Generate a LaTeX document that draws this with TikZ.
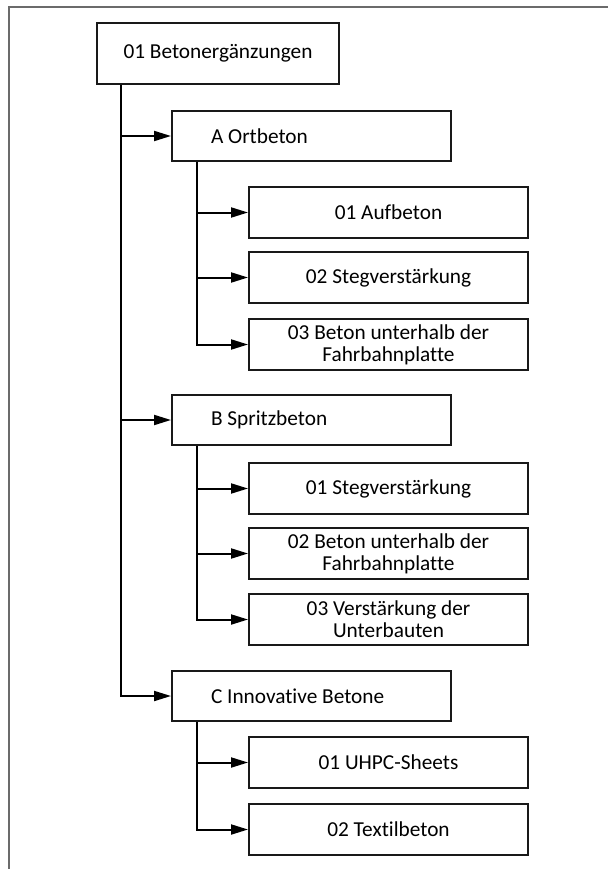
\documentclass[tikz,border=0pt]{standalone}
\usepackage{fontspec}
\setmainfont{Carlito}[Ligatures=NoCommon]
\usetikzlibrary{arrows.meta,positioning}

\begin{document}
\begin{tikzpicture}[x=1pt,y=-1pt,->,>={Triangle[length=17pt,width=10pt]},line width=2pt,
                    box/.style={rectangle,draw=black!90,anchor=north west,inner sep=2pt,
                      font=\fontsize{21.3}{22}\selectfont},
                    root node/.style={box,minimum width=242pt,minimum height=61pt},
                    group node/.style={box,text width=201pt,inner xsep=39pt,minimum height=50pt,align=flush left},
                    item node/.style={box,minimum width=279pt,minimum height=51pt,align=center}]

      \useasboundingbox (0,0) rectangle (608,869);
      \draw[-,draw=black!58] (9,869) -- (9,7) -- (608,7);

      \node[root node] (1) at (96,22) {01 Betonergänzungen};

      \node[group node] (A) at (171,110) {A Ortbeton};
      \node[item node] (A1) at (248,186) {01 Aufbeton};
      \node[item node] (A2) at (248,251) {02 Stegverstärkung};
      \node[item node] (A3) at (248,318) {03 Beton unterhalb der\\Fahrbahnplatte};

      \node[group node] (B) at (171,394) {B Spritzbeton};
      \node[item node] (B1) at (248,462) {01 Stegverstärkung};
      \node[item node] (B2) at (248,527) {02 Beton unterhalb der\\Fahrbahnplatte};
      \node[item node] (B3) at (248,593) {03 Verstärkung der\\Unterbauten};

      \node[group node] (C) at (171,670) {C Innovative Betone};
      \node[item node] (C1) at (248,736) {01 UHPC-Sheets};
      \node[item node] (C2) at (248,803) {02 Textilbeton};

      % elbow connectors
      \foreach \g in {A,B,C}
        \draw ([xshift=25pt]1.south west) |- (\g.west);
      \foreach \i in {1,2,3}
        \draw ([xshift=26pt]A.south west) |- (A\i.west);
      \foreach \i in {1,2,3}
        \draw ([xshift=26pt]B.south west) |- (B\i.west);
      \foreach \i in {1,2}
        \draw ([xshift=26pt]C.south west) |- (C\i.west);

\end{tikzpicture}
\end{document}
